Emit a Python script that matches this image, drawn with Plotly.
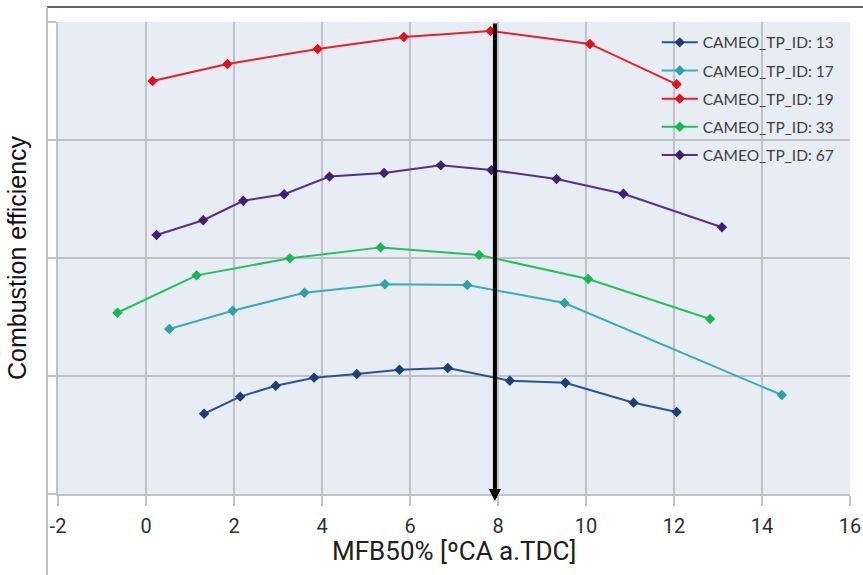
import plotly.graph_objects as go

names = ["CAMEO_TP_ID: 13", "CAMEO_TP_ID: 17", "CAMEO_TP_ID: 19", "CAMEO_TP_ID: 33", "CAMEO_TP_ID: 67"]
colors = ["#2a5592", "#35b0b3", "#e8202a", "#22c35e", "#55308a"]
marker_colors = ["#1c3f78", "#2aa3a6", "#e0101c", "#16b852", "#42206f"]

x13 = [1.32, 2.14, 2.95, 3.82, 4.79, 5.76, 6.86, 8.27, 9.53, 11.08, 12.06]
y13 = [0.68, 0.825, 0.918, 0.986, 1.017, 1.053, 1.068, 0.96, 0.943, 0.774, 0.695]

x17 = [0.53, 1.97, 3.60, 5.43, 7.30, 9.51, 14.45]
y17 = [1.398, 1.553, 1.706, 1.777, 1.771, 1.619, 0.839]

x19 = [0.15, 1.85, 3.90, 5.86, 7.83, 10.09, 12.06]
y19 = [3.50, 3.644, 3.771, 3.873, 3.924, 3.814, 3.472]

x33 = [-0.65, 1.15, 3.27, 5.33, 7.57, 10.05, 12.82]
y33 = [1.536, 1.853, 1.997, 2.09, 2.025, 1.822, 1.483]

x67 = [0.24, 1.30, 2.21, 3.14, 4.17, 5.41, 6.70, 7.85, 9.33, 10.85, 13.09]
y67 = [2.195, 2.32, 2.485, 2.54, 2.69, 2.72, 2.785, 2.745, 2.67, 2.545, 2.26]

xs = [x13, x17, x19, x33, x67]
ys = [y13, y17, y19, y33, y67]

x_ticks = [-2, 0, 2, 4, 6, 8, 10, 12, 14, 16]
y_ticks = [0, 1, 2, 3, 4]
arrow_x = 7.93

fig = go.Figure()
for i in range(5):
    fig.add_trace(go.Scatter(
        x=xs[i], y=ys[i], name=names[i], mode="lines+markers",
        legendgroup=str(i),
        line=dict(color=colors[i], width=2),
        marker=dict(symbol="diamond", size=8, color=marker_colors[i]),
    ))

grid = "#bfc3c9"
fig.update_layout(
    width=863, height=575,
    margin=dict(l=58, r=13, t=22, b=81),
    paper_bgcolor="white",
    plot_bgcolor="#e8ecf4",
    showlegend=True,
    legend=dict(
        x=0.756, y=0.992, xanchor="left", yanchor="top",
        bgcolor="rgba(0,0,0,0)",
        font=dict(family="Lato, Open Sans, sans-serif", size=15.5, color="#404040"),
        traceorder="grouped", tracegroupgap=5,
        itemwidth=36,
    ),
    xaxis=dict(
        range=[-2, 16], tickvals=x_ticks, ticktext=[str(v) for v in x_ticks],
        automargin=False,
        showgrid=True, gridcolor=grid, gridwidth=1.5,
        zeroline=False, showline=True, linecolor=grid, linewidth=1.5,
        ticks="outside", ticklen=10, tickcolor=grid, tickwidth=1.5,
        ticklabelstandoff=3,
        tickfont=dict(family="Roboto, sans-serif", size=20, color="#303030"),
    ),
    yaxis=dict(
        range=[0, 4], tickvals=y_ticks, showticklabels=False,
        automargin=False,
        showgrid=True, gridcolor=grid, gridwidth=1.5,
        zeroline=False, showline=True, linecolor=grid, linewidth=1.5,
        ticks="outside", ticklen=8, tickcolor=grid, tickwidth=1.5,
        title=dict(text="Combustion efficiency",
                   font=dict(family="Liberation Sans, Arial, sans-serif", size=25, color="#111111")),
    ),
)

# x-axis title
fig.add_annotation(
    x=0.5, y=-0.1208, xref="paper", yref="paper", xanchor="center", yanchor="middle",
    showarrow=False, text="MFB50% [ºCA a.TDC]",
    font=dict(family="Roboto, sans-serif", size=26, color="#202020"),
)

# arrow at MFB50 = 8
fig.add_annotation(
    x=arrow_x, y=-0.06, ax=arrow_x, ay=4, xref="x", yref="y", axref="x", ayref="y",
    showarrow=True, arrowhead=2, arrowsize=0.6, arrowwidth=4, arrowcolor="black", text="",
)

# outer chart frame (partially cropped)
fig.add_shape(type="line", xref="paper", yref="paper", x0=-0.0139, x1=1.1, y0=1.0318, y1=1.0318,
              line=dict(color="#333333", width=1.5))
fig.add_shape(type="line", xref="paper", yref="paper", x0=-0.0139, x1=-0.0139, y0=1.0318, y1=-0.2,
              line=dict(color="#b0b0b0", width=1.5))

fig.write_html("out.html")
